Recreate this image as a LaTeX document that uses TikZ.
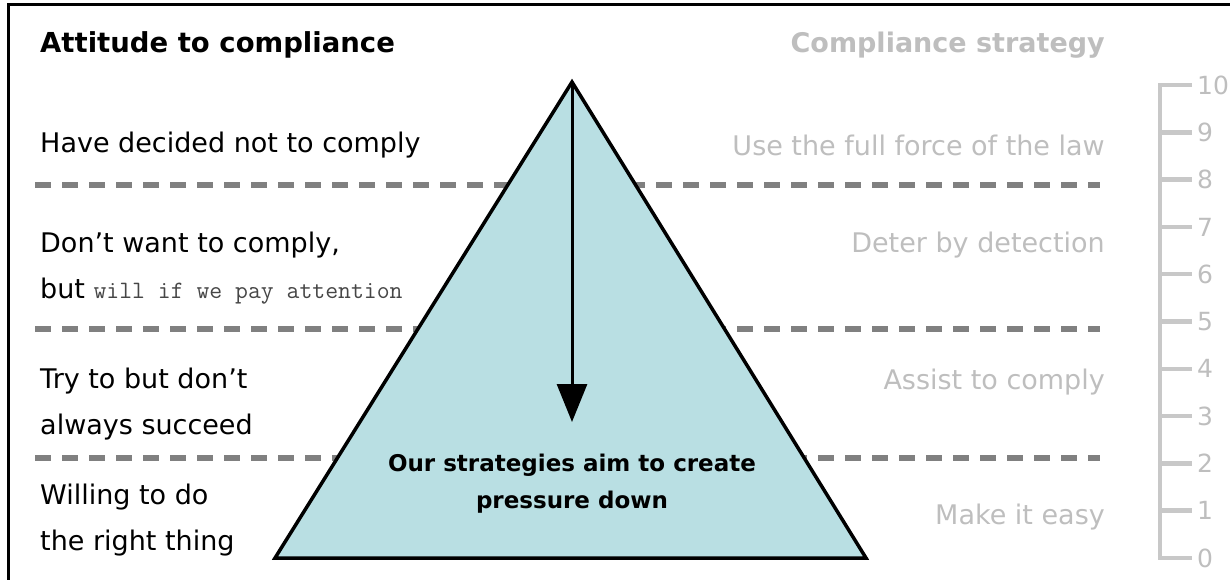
\documentclass[tikz,border=0pt]{standalone}
\usepackage{fontspec}
\setmainfont{DejaVu Sans}
\usetikzlibrary{arrows.meta}
\definecolor{pyramid}{RGB}{185,223,227}
\definecolor{dashgray}{RGB}{128,128,128}
\definecolor{softgray}{RGB}{190,190,190}
\definecolor{scalegray}{RGB}{200,200,200}
\definecolor{inkgray}{RGB}{70,70,70}
\tikzset{
  attitude/.style={anchor=west, align=left, inner sep=0pt, font=\fontsize{27}{46}\selectfont},
  strategy/.style={anchor=east, inner sep=0pt, text=softgray, font=\fontsize{27}{46}\selectfont},
  band/.style={draw=dashgray, line width=5.5pt, dash pattern=on 16pt off 11pt},
  ruler/.style={draw=scalegray, line width=4.5pt},
}

\begin{document}
\begin{tikzpicture}[x=1pt, y=-1pt]
    \useasboundingbox (0,0) rectangle (1230,580);
    \draw[line width=3pt] (1230,5) -| (8,580);
    \foreach \y in {185,329,458} \draw[band] (35,\y) -- (1100,\y);
    \coordinate (apex) at (572,82);
    \coordinate (tip) at (572,422);
    \draw[fill=pyramid, line width=3.5pt] (apex) -- (866,558) -- (275,558) -- cycle;
    \draw[line width=3pt, -{Triangle[width=30pt,length=38pt]}] (apex) -- (tip);
    \node[align=center, inner sep=0pt, font=\fontsize{23}{37}\selectfont\bfseries] (aim) at (572,484) {Our strategies aim to create\\pressure down};
    \node[attitude, font=\fontsize{27.5}{46}\selectfont\bfseries] (attitude) at (40,45) {Attitude to compliance};
    \node[attitude] (decided) at (40,145) {Have decided not to comply};
    \node[attitude] (reluctant) at (40,268) {Don’t want to comply,\\but {\ttfamily\fontsize{25}{46}\selectfont\color{inkgray} will if we pay attention}};
    \node[attitude] (trying) at (40,404) {Try to but don’t\\always succeed};
    \node[attitude] (willing) at (40,520) {Willing to do\\the right thing};
    \node[strategy, font=\fontsize{27}{46}\selectfont\bfseries] (strategy) at (1105,45) {Compliance strategy};
    \node[strategy] (force) at (1105,145) {Use the full force of the law};
    \node[strategy] (deter) at (1105,245) {Deter by detection};
    \node[strategy] (assist) at (1105,382) {Assist to comply};
    \node[strategy] (easy) at (1105,517) {Make it easy};
    \draw[ruler] (1192,85) -- (1160,85) -- (1160,558) -- (1192,558);
    \foreach \k in {1,...,9} \draw[ruler] (1160,{558-47.3*\k}) -- (1192,{558-47.3*\k});
    \foreach \k in {0,...,10} \node[anchor=west, inner sep=0pt, text=softgray, font=\fontsize{25}{25}\selectfont] (tick\k) at (1197,{558-47.3*\k}) {\k};
\end{tikzpicture}
\end{document}
